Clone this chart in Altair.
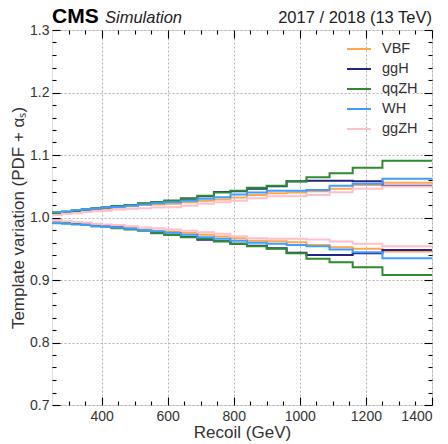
import altair as alt
import pandas as pd

# ---------------- data ----------------
edges = [250, 280, 310, 340, 370, 400, 430, 470, 510, 550, 590, 640, 690,
         740, 790, 840, 900, 960, 1020, 1090, 1160, 1250, 1400]
processes = ["VBF", "ggH", "qqZH", "WH", "ggZH"]
colors = ["#ffa64d", "#23238c", "#2e8b2e", "#3d9eff", "#ffc0cb"]

vbf_up = [1.006, 1.008, 1.010, 1.012, 1.013, 1.014, 1.016, 1.018, 1.020, 1.021, 1.022,
          1.0245, 1.027, 1.029, 1.032, 1.036, 1.039, 1.040, 1.042, 1.046, 1.052, 1.0555]
vbf_down = [0.993, 0.991, 0.990, 0.988, 0.987, 0.986, 0.985, 0.983, 0.981, 0.979, 0.9776,
            0.9755, 0.9723, 0.9696, 0.967, 0.963, 0.962, 0.9605, 0.956, 0.9525, 0.950, 0.9456]
ggh_up = [1.006, 1.008, 1.011, 1.013, 1.015, 1.016, 1.018, 1.020, 1.022, 1.025, 1.027,
          1.030, 1.034, 1.041, 1.042, 1.046, 1.050, 1.058, 1.059, 1.059, 1.058, 1.051]
ggh_down = [0.995, 0.993, 0.990, 0.989, 0.987, 0.986, 0.984, 0.982, 0.980, 0.977, 0.9725,
            0.969, 0.9645, 0.962, 0.958, 0.955, 0.951, 0.9435, 0.940, 0.940, 0.943, 0.948]
qqzh_up = [1.007, 1.009, 1.011, 1.013, 1.015, 1.016, 1.018, 1.020, 1.023, 1.025, 1.027,
           1.031, 1.035, 1.040, 1.043, 1.0475, 1.051, 1.0576, 1.0645, 1.071, 1.0795, 1.091]
qqzh_down = [0.994, 0.992, 0.990, 0.988, 0.986, 0.985, 0.983, 0.981, 0.979, 0.975, 0.972,
             0.9685, 0.966, 0.962, 0.958, 0.954, 0.950, 0.943, 0.934, 0.9285, 0.9205, 0.908]
wh_up = [1.009, 1.010, 1.012, 1.013, 1.015, 1.016, 1.017, 1.019, 1.021, 1.023, 1.0245,
         1.027, 1.030, 1.0325, 1.037, 1.040, 1.043, 1.043, 1.044, 1.051, 1.054, 1.062]
wh_down = [0.991, 0.990, 0.989, 0.988, 0.986, 0.985, 0.984, 0.982, 0.980, 0.978, 0.9755,
           0.9723, 0.9685, 0.966, 0.963, 0.9595, 0.958, 0.956, 0.954, 0.949, 0.9445, 0.935]
ggzh_up = [1.004, 1.006, 1.007, 1.009, 1.010, 1.011, 1.013, 1.014, 1.015, 1.016, 1.0165,
           1.019, 1.022, 1.0245, 1.027, 1.031, 1.034, 1.034, 1.036, 1.0405, 1.046, 1.0496]
ggzh_down = [0.995, 0.994, 0.993, 0.992, 0.990, 0.989, 0.988, 0.986, 0.984, 0.983, 0.981,
             0.979, 0.9765, 0.974, 0.970, 0.967, 0.966, 0.966, 0.965, 0.9616, 0.958, 0.954]

x_major = [400, 600, 800, 1000, 1200, 1400]
x_minor = [300, 350, 450, 500, 550, 650, 700, 750, 850, 900, 950, 1050, 1100, 1150,
           1250, 1300, 1350]
y_major = [0.7, 0.8, 0.9, 1.0, 1.1, 1.2, 1.3]
y_minor = [0.72, 0.74, 0.76, 0.78, 0.82, 0.84, 0.86, 0.88, 0.92, 0.94, 0.96, 0.98,
           1.02, 1.04, 1.06, 1.08, 1.12, 1.14, 1.16, 1.18, 1.22, 1.24, 1.26, 1.28]

header_left = "CMS"
header_mid = "Simulation"
header_right = "2017 / 2018 (13 TeV)"
x_title = "Recoil (GeV)"
y_title = "Template variation (PDF + αₛ)"

series = {
    "VBF": (vbf_up, vbf_down),
    "ggH": (ggh_up, ggh_down),
    "qqZH": (qqzh_up, qqzh_down),
    "WH": (wh_up, wh_down),
    "ggZH": (ggzh_up, ggzh_down),
}

rows = []
for proc in processes:
    up, down = series[proc]
    for var, vals in (("up", up), ("down", down)):
        ext = vals + [vals[-1]]  # close the last bin at the upper edge
        for e, v in zip(edges, ext):
            rows.append({"recoil": e, "value": v, "process": proc, "var": var})
df = pd.DataFrame(rows)

FONT = "Liberation Sans"
W, H = 380, 375

xscale = alt.Scale(domain=[250, 1400], nice=False, zero=False)
yscale = alt.Scale(domain=[0.7, 1.3], nice=False, zero=False)


def tick_axis(orient, values, size):
    return alt.Axis(orient=orient, values=values, ticks=True, tickSize=size,
                    tickWidth=1.1, tickColor="black", offset=-size,
                    labels=False, domain=False, grid=False, title=None)


main = alt.Chart(df).mark_line(interpolate="step-after", strokeWidth=2).encode(
    x=alt.X("recoil:Q", scale=xscale,
            axis=alt.Axis(orient="bottom", values=x_major, format="d", ticks=False,
                          domain=False, grid=True, gridDash=[2, 2], gridColor="#b5b5b5",
                          gridWidth=1, labelPadding=4, labelFontSize=14,
                          labelColor="#333", labelFont=FONT, title=x_title,
                          titleFont=FONT, titleFontSize=17, titleFontWeight="normal",
                          titleColor="#333", titlePadding=1)),
    y=alt.Y("value:Q", scale=yscale,
            axis=alt.Axis(orient="left", values=y_major, format=".1f", ticks=False,
                          domain=False, grid=True, gridDash=[2, 2], gridColor="#b5b5b5",
                          gridWidth=1, labelPadding=3, labelFontSize=14,
                          labelColor="#333", labelFont=FONT, title=y_title,
                          titleFont=FONT, titleFontSize=17, titleFontWeight="normal",
                          titleColor="#333", titlePadding=2)),
    color=alt.Color("process:N", sort=processes,
                    scale=alt.Scale(domain=processes, range=colors),
                    legend=alt.Legend(title=None, orient="none", legendX=294, legendY=6,
                                      symbolType="stroke", symbolSize=576,
                                      symbolStrokeWidth=2, labelFontSize=14.5,
                                      labelFont=FONT, labelColor="#333",
                                      labelOffset=10, rowPadding=-3, padding=0)),
    detail="var:N",
)


def tick_layer(xo, xv, xs, yo, yv, ys):
    return alt.Chart(df).mark_point(opacity=0).encode(
        x=alt.X("recoil:Q", scale=xscale, axis=tick_axis(xo, xv, xs)),
        y=alt.Y("value:Q", scale=yscale, axis=tick_axis(yo, yv, ys)),
    )


t1 = tick_layer("bottom", x_major, 8, "left", y_major, 8)
t2 = tick_layer("bottom", x_minor, 4, "left", y_minor, 4)
t3 = tick_layer("top", x_major, 8, "right", y_major, 8)
t4 = tick_layer("top", x_minor, 4, "right", y_minor, 4)

hdr = pd.DataFrame({"a": [header_left], "b": [header_mid], "c": [header_right]})
cms = alt.Chart(hdr).mark_text(font=FONT, fontSize=21, fontWeight="bold", align="left",
                               baseline="alphabetic", color="black").encode(
    x=alt.value(0), y=alt.value(-7), text="a:N")
sim = alt.Chart(hdr).mark_text(font=FONT, fontSize=16.5, fontStyle="italic", align="left",
                               baseline="alphabetic", color="#222").encode(
    x=alt.value(53), y=alt.value(-7), text="b:N")
lumi = alt.Chart(hdr).mark_text(font=FONT, fontSize=16.5, align="right",
                                baseline="alphabetic", color="#222").encode(
    x=alt.value(W), y=alt.value(-7), text="c:N")

chart = alt.layer(main, t1, t2, t3, t4, cms, sim, lumi).resolve_axis(
    x="independent", y="independent"
).properties(
    width=W, height=H,
    autosize=alt.AutoSizeParams(type="none"),
    padding={"left": 52, "top": 30, "right": 16, "bottom": 39},
).configure_view(stroke="black", strokeWidth=1.5).configure(background="white")

chart.save("out.html", embed_options={"renderer": "svg", "actions": False})
